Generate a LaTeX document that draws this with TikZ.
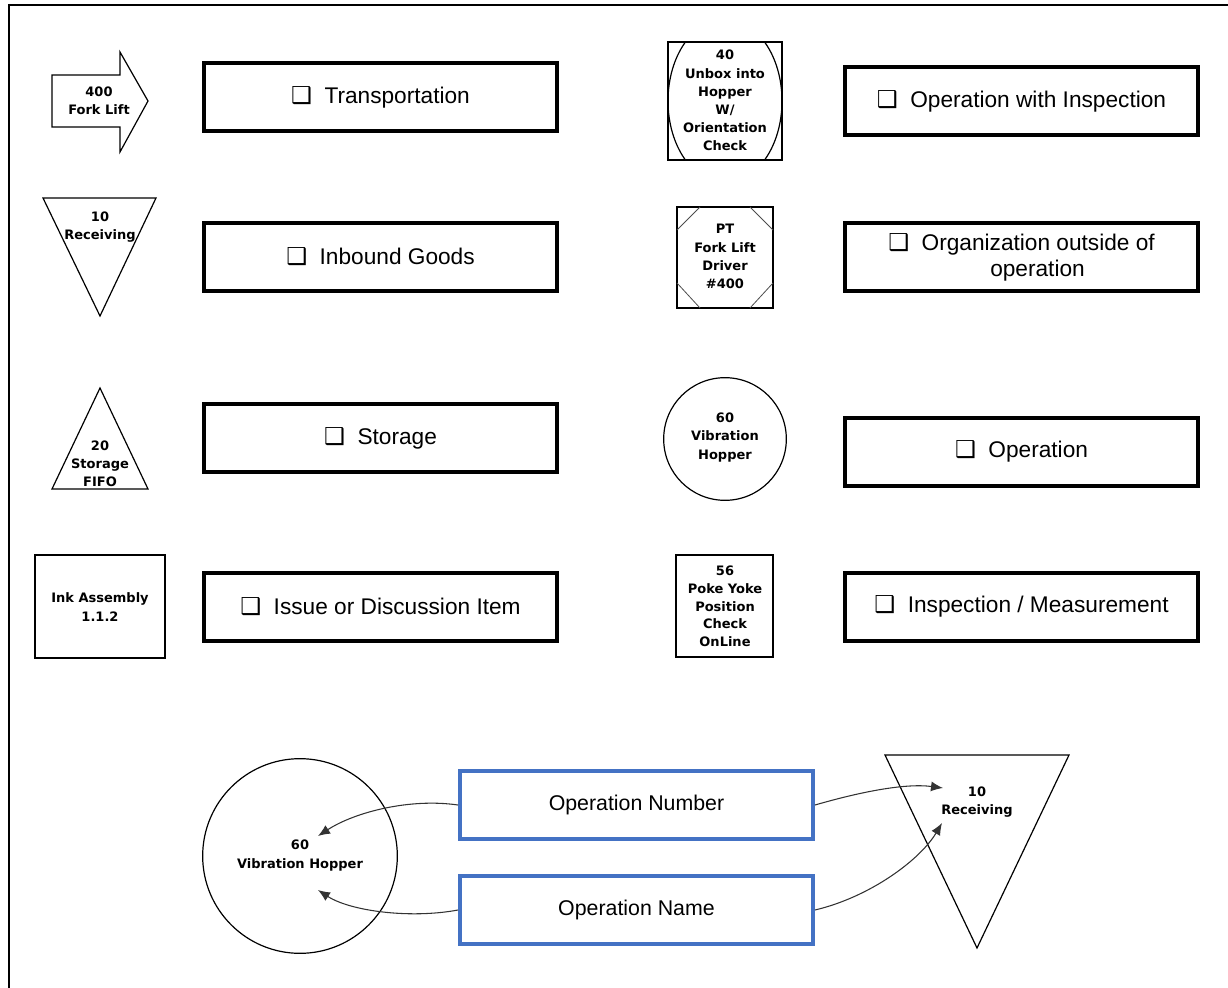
\documentclass[tikz,border=0pt]{standalone}
\usepackage{fontspec}
\setmainfont{Liberation Sans}
\newfontfamily\djv{DejaVu Sans}
\usetikzlibrary{arrows.meta}
\definecolor{opblue}{RGB}{68,114,196}
% check-box bullet used in the legend entries
\newcommand{\chk}{{\djv\fontsize{17.5}{17.5}\selectfont ❑}\hspace{0.55em}}

\begin{document}
\begin{tikzpicture}[x=0.75pt,y=-0.75pt,
  legendbox/.style={draw, line width=3pt, minimum width=264.75pt, minimum height=51pt,
    inner sep=0pt, align=center, font=\fontsize{17}{19.5}\selectfont},
  tagbox/.style={draw=opblue, line width=3pt, minimum width=264.75pt, minimum height=51pt,
    inner sep=0pt, font=\fontsize{16}{19}\selectfont},
  symtxt/.style={align=center, inner sep=0pt, font=\djv\bfseries\fontsize{9.75}{13.6}\selectfont},
  symline/.style={line width=0.9pt},
  conn/.style={-{Latex[length=9pt,width=7.5pt]}, line width=0.8pt, draw=black!80}]

\useasboundingbox (0,0) rectangle (1228,988);

% page frame
\draw[line width=1.5pt] (9,5) -- (1228,5);
\draw[line width=2.2pt] (9,4) -- (9,988);

% ---------- left column symbols ----------
% transportation arrow
\draw[symline, line join=miter] (52,75) -- (120,75) -- (120,52) -- (148,101) -- (120,152) -- (120,127) -- (52,127) -- cycle;
\node[symtxt] (tarrow) at (99,101) {400\\Fork Lift};

% inbound (inverted triangle)
\draw[symline] (43,198) -- (156,198) -- (100,316) -- cycle;
\node[symtxt] (trecv) at (100,227) {10\\Receiving};

% storage triangle
\draw[symline] (100,388) -- (148,489) -- (52,489) -- cycle;
\node[symtxt] (tstore) at (100,463.5) {20\\Storage\\FIFO};

% issue box
\draw[line width=1.5pt] (35,555) rectangle (165,658);
\node[symtxt] (tink) at (100,607) {Ink Assembly\\1.1.2};

% ---------- left column legend ----------
\node[legendbox] (ltrans) at (380.5,97) {\chk Transportation};
\node[legendbox] (linb) at (380.5,257) {\chk Inbound Goods};
\node[legendbox] (lstor) at (380.5,438) {\chk Storage};
\node[legendbox] (liss) at (380.5,607) {\chk Issue or Discussion Item};

% ---------- right column symbols ----------
% operation with inspection: oval in a square
\draw[line width=1.1pt] (668,42) rectangle (782,160);
\begin{scope}
  \clip (668,42) rectangle (782,160);
  \draw[symline] (725,101) ellipse [x radius=42.75pt, y radius=61.5pt];
\end{scope}
\node[symtxt] (topi) at (725,100.5) {40\\Unbox into\\Hopper\\W/\\Orientation\\Check};

% organization outside: square with cut corners
\draw[line width=1pt] (677,207) rectangle (773,308);
\draw[line width=0.6pt, black!70] (677,230) -- (700,207)
  (750,207) -- (773,230) (677,283) -- (700,308) (750,308) -- (773,283);
\node[symtxt] (torg) at (725,256.5) {PT\\Fork Lift\\Driver\\\#400};

% operation circle
\draw[symline] (725,439) circle [radius=46pt];
\node[symtxt] (top) at (725,437.5) {60\\Vibration\\Hopper};

% inspection square
\draw[line width=2pt] (676,555) rectangle (773,657);
\node[symtxt, font=\djv\bfseries\fontsize{9.75}{13.3}\selectfont] (tinsp) at (725,606.5) {56\\Poke Yoke\\Position\\Check\\OnLine};

% ---------- right column legend ----------
\node[legendbox] (lopi) at (1021.5,101) {\chk Operation with Inspection};
\node[legendbox] (lorg) at (1021.5,257) {\chk Organization outside of\\\hspace*{24pt}operation};
\node[legendbox] (lop) at (1021.5,451.5) {\chk Operation};
\node[legendbox] (linsp) at (1021.5,606.5) {\chk Inspection / Measurement};

% ---------- labelled example ----------
\draw[symline] (300,856) circle [radius=73pt];
\node[symtxt] (hop) at (300,855.5) {60\\Vibration Hopper};

\draw[symline] (885,755) -- (1069,755) -- (977,948) -- cycle;
\node[symtxt] (recv) at (977,802) {10\\Receiving};

\node[tagbox] (onum) at (636.5,805) {Operation Number};
\node[tagbox] (oname) at (636.5,910) {Operation Name};

\coordinate (hnum) at (318,836);
\coordinate (hname) at (318,890);
\coordinate (rnum) at (943,788);
\coordinate (rname) at (942,823);

\draw[conn] (onum.west) .. controls (410,798) and (355,812) .. (hnum);
\draw[conn] (oname.west) .. controls (410,919) and (350,911) .. (hname);
\draw[conn] (onum.east) .. controls (860,792) and (905,783) .. (rnum);
\draw[conn] (oname.east) .. controls (870,897) and (920,860) .. (rname);

\end{tikzpicture}
\end{document}
